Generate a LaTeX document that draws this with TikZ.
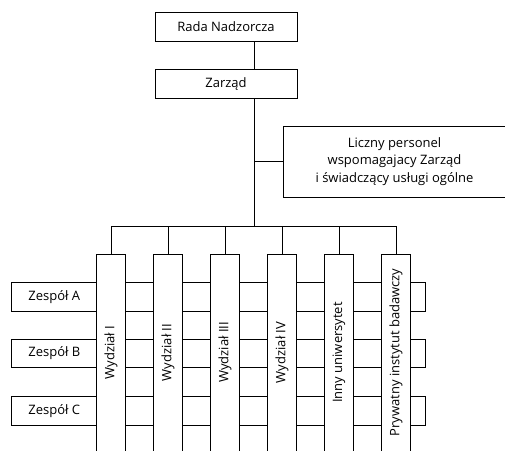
\documentclass[tikz,border=0pt]{standalone}
\usepackage{fontspec}
\setmainfont{Open Sans}
\begin{document}
\begin{tikzpicture}[x=1pt,y=-1pt,
  line width=0.8pt,
  box/.style={draw, fill=white, inner sep=0pt, outer sep=0pt, align=center,
    font=\fontsize{13}{17.5}\selectfont},
  topbox/.style={box, minimum width=142pt, minimum height=29pt},
  team/.style={box, minimum width=85.3pt, minimum height=28.5pt},
  unit/.style={box, rotate=90, minimum width=197pt, minimum height=28.5pt},
  link/.style={draw, line width=0.9pt}]
\useasboundingbox (0,0) rectangle (505,450);
\clip (0,0) rectangle (505,450);

% board and management
\node[topbox] (rada) at (226,27) {Rada Nadzorcza};
\node[topbox] (zarzad) at (226,84) {Zarząd};
\node[box, minimum width=223pt, minimum height=71pt] (staff) at (394.5,161.5)
  {Liczny personel\\wspomagajacy Zarząd\\i świadczący usługi ogólne};

% spine and distribution bus
\coordinate (bus) at (254,226);
\coordinate (bandend) at (425,0);
\path[link] (rada.south -| bus) -- (zarzad.north -| bus);
\path[link] (zarzad.south -| bus) -- (bus);
\path[link] (staff.west) -- (staff.west -| bus);

% teams running across all units
\foreach \n/\y/\t in {A/297/Zespół A, B/353.5/Zespół B, C/410.8/Zespół C}{
  \node[team] (t\n) at (54.35,\y) {\t};
  \draw (t\n.north east) -- (t\n.north east -| bandend)
        -- (t\n.south east -| bandend) -- (t\n.south east);
}

% faculties and partner institutions
\foreach \i/\x/\t in {1/111/Wydział I, 2/168/Wydział II, 3/225/Wydział III,
                      4/282/Wydział IV, 5/339/Inny uniwersytet,
                      6/396/Prywatny instytut badawczy}{
  \node[unit] (u\i) at (\x,352.5) {\t};
  \path[link] (u\i.east) -- (u\i.east |- bus);
}
\path[link] (u1.east |- bus) -- (u6.east |- bus);
\end{tikzpicture}
\end{document}
